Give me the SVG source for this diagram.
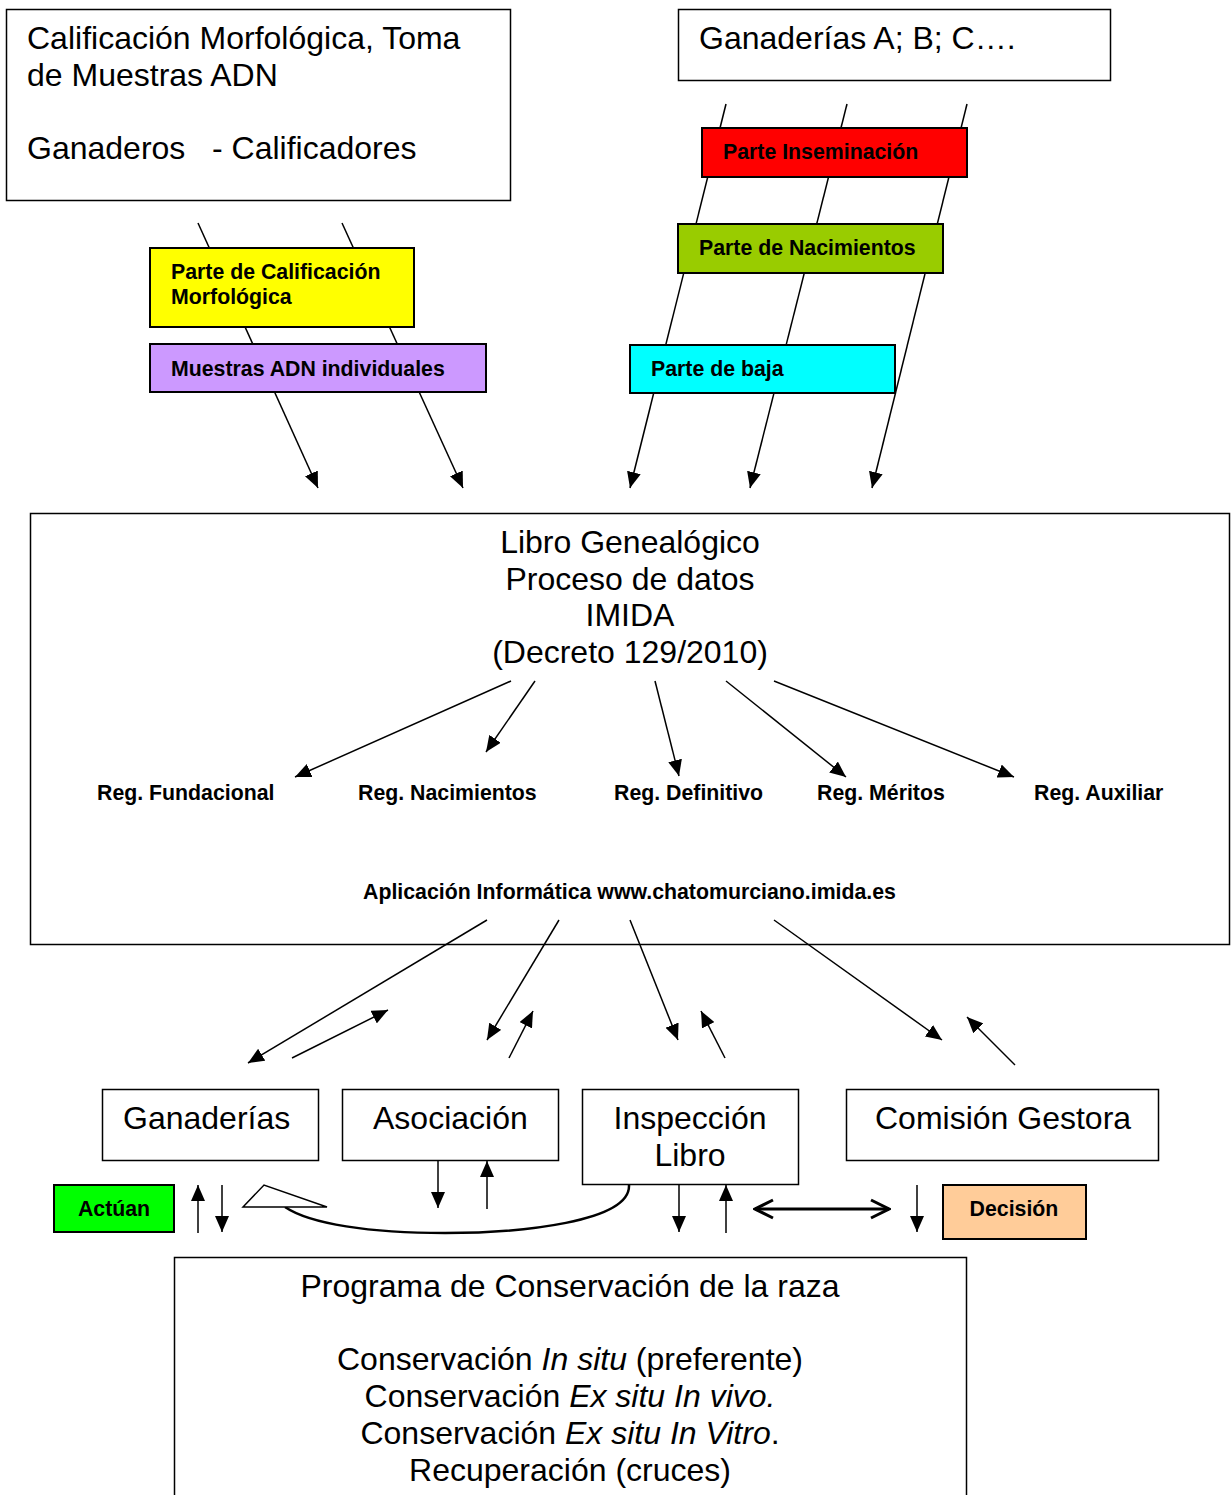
<svg xmlns="http://www.w3.org/2000/svg" width="1231" height="1495" viewBox="0 0 1231 1495">
<style>
.box{fill:#fff;stroke:#000;stroke-width:1.5}
.cbox{stroke:#000;stroke-width:2}
.t{font-family:"Liberation Sans",Arial,sans-serif;font-size:32px;fill:#000}
.b{font-family:"Liberation Sans",Arial,sans-serif;font-size:21.3px;font-weight:bold;fill:#000}
.c{text-anchor:middle}
.ln{stroke:#000;stroke-width:1.5;fill:none}
.arr{stroke:#000;stroke-width:1.5;fill:none;marker-end:url(#ah)}
</style>
<defs>
<marker id="ah" viewBox="0 0 16 14" refX="16" refY="7" markerWidth="16" markerHeight="14" markerUnits="userSpaceOnUse" orient="auto">
<path d="M0,0 L16,7 L0,14 z" fill="#000"/>
</marker>
<marker id="chev" viewBox="0 0 22 22" refX="20" refY="11" markerWidth="22" markerHeight="22" markerUnits="userSpaceOnUse" orient="auto-start-reverse">
<path d="M2,2 L20,11 L2,20" fill="none" stroke="#000" stroke-width="3"/>
</marker>
</defs>

<g id="connectors">
<line class="arr" x1="198" y1="223" x2="318" y2="488"/>
<line class="arr" x1="342" y1="223" x2="463" y2="488"/>
<line class="arr" x1="726" y1="104" x2="630" y2="488"/>
<line class="arr" x1="847" y1="104" x2="750" y2="488"/>
<line class="arr" x1="967" y1="104" x2="872" y2="488"/>
</g>

<g id="calificacion">
<rect class="box" x="6.5" y="9.5" width="504" height="191"/>
<text class="t" x="27" y="49">Calificación Morfológica, Toma</text>
<text class="t" x="27" y="86">de Muestras ADN</text>
<text class="t" x="27" y="159" xml:space="preserve">Ganaderos   - Calificadores</text>
</g>
<g id="ganaderias-top">
<rect class="box" x="678.5" y="9.5" width="432" height="71"/>
<text class="t" x="699" y="49">Ganaderías A; B; C….</text>
</g>
<g id="parte-calificacion">
<rect class="cbox" x="150" y="248" width="264" height="79" fill="#FFFF00"/>
<text class="b" x="171" y="279">Parte de Calificación</text>
<text class="b" x="171" y="304">Morfológica</text>
</g>
<g id="muestras-adn">
<rect class="cbox" x="150" y="344" width="336" height="48" fill="#CC99FF"/>
<text class="b" x="171" y="376">Muestras ADN individuales</text>
</g>
<g id="parte-inseminacion">
<rect class="cbox" x="702" y="128" width="265" height="49" fill="#FF0000"/>
<text class="b" x="723" y="159">Parte Inseminación</text>
</g>
<g id="parte-nacimientos">
<rect class="cbox" x="678" y="224" width="265" height="49" fill="#99CC00"/>
<text class="b" x="699" y="255">Parte de Nacimientos</text>
</g>
<g id="parte-baja">
<rect class="cbox" x="630" y="345" width="265" height="48" fill="#00FFFF"/>
<text class="b" x="651" y="376">Parte de baja</text>
</g>

<g id="libro">
<rect class="box" x="30.5" y="513.5" width="1199" height="431"/>
<text class="t c" x="630" y="553">Libro Genealógico</text>
<text class="t c" x="630" y="590">Proceso de datos</text>
<text class="t c" x="630" y="626">IMIDA</text>
<text class="t c" x="630" y="663">(Decreto 129/2010)</text>
<text class="b" x="97" y="800">Reg. Fundacional</text>
<text class="b" x="358" y="800">Reg. Nacimientos</text>
<text class="b" x="614" y="800">Reg. Definitivo</text>
<text class="b" x="817" y="800">Reg. Méritos</text>
<text class="b" x="1034" y="800">Reg. Auxiliar</text>
<text class="b" x="363" y="899">Aplicación Informática www.chatomurciano.imida.es</text>
</g>

<g id="connectors-libro">
<line class="arr" x1="511" y1="681" x2="295" y2="777"/>
<line class="arr" x1="535" y1="681" x2="486" y2="752"/>
<line class="arr" x1="655" y1="681" x2="679" y2="776"/>
<line class="arr" x1="726" y1="681" x2="846" y2="777"/>
<line class="arr" x1="774" y1="681" x2="1014" y2="777"/>
<line class="arr" x1="487" y1="920" x2="248" y2="1063"/>
<line class="arr" x1="292" y1="1058" x2="388" y2="1010"/>
<line class="arr" x1="559" y1="920" x2="487" y2="1040"/>
<line class="arr" x1="509" y1="1058" x2="533" y2="1011"/>
<line class="arr" x1="630" y1="920" x2="678" y2="1040"/>
<line class="arr" x1="725" y1="1058" x2="701" y2="1011"/>
<line class="arr" x1="774" y1="920" x2="942" y2="1040"/>
<line class="arr" x1="1015" y1="1065" x2="967" y2="1017"/>
</g>

<g id="ganaderias">
<rect class="box" x="102.5" y="1089.5" width="216" height="71"/>
<text class="t" x="123" y="1129">Ganaderías</text>
</g>
<g id="asociacion">
<rect class="box" x="342.5" y="1089.5" width="216" height="71"/>
<text class="t" x="373" y="1129">Asociación</text>
</g>
<g id="inspeccion">
<rect class="box" x="582.5" y="1089.5" width="216" height="95"/>
<text class="t c" x="690" y="1129">Inspección</text>
<text class="t c" x="690" y="1166">Libro</text>
</g>
<g id="comision">
<rect class="box" x="846.5" y="1089.5" width="312" height="71"/>
<text class="t" x="875" y="1129">Comisión Gestora</text>
</g>
<g id="actuan">
<rect class="cbox" x="54" y="1185" width="120" height="47" fill="#00FF00"/>
<text class="b c" x="114" y="1216">Actúan</text>
</g>
<g id="decision">
<rect class="cbox" x="943" y="1185" width="143" height="54" fill="#FFCC99"/>
<text class="b c" x="1014" y="1216">Decisión</text>
</g>

<g id="connectors-bottom">
<line class="arr" x1="198" y1="1233" x2="198" y2="1185"/>
<line class="arr" x1="222" y1="1185" x2="222" y2="1232"/>
<line class="arr" x1="438" y1="1161" x2="438" y2="1208"/>
<line class="arr" x1="487" y1="1209" x2="487" y2="1161"/>
<line class="arr" x1="679" y1="1185" x2="679" y2="1232"/>
<line class="arr" x1="726" y1="1233" x2="726" y2="1185"/>
<line class="arr" x1="917" y1="1185" x2="917" y2="1232"/>
<line stroke="#000" stroke-width="3" x1="755" y1="1209" x2="889" y2="1209" marker-start="url(#chev)" marker-end="url(#chev)"/>
<path d="M629,1185 C631,1222 520,1233 445,1233 C370,1233 310,1224 285,1207" fill="none" stroke="#000" stroke-width="2.5"/>
<polygon points="243,1207 264,1185 327,1207" fill="#fff" stroke="#000" stroke-width="1.5"/>
</g>

<g id="programa">
<rect class="box" x="174.5" y="1257.5" width="792" height="245"/>
<text class="t c" x="570" y="1297">Programa de Conservación de la raza</text>
<text class="t c" x="570" y="1370">Conservación <tspan font-style="italic">In situ</tspan> (preferente)</text>
<text class="t c" x="570" y="1407">Conservación <tspan font-style="italic">Ex situ In vivo.</tspan></text>
<text class="t c" x="570" y="1444">Conservación <tspan font-style="italic">Ex situ In Vitro</tspan>.</text>
<text class="t c" x="570" y="1481">Recuperación (cruces)</text>
</g>
</svg>
